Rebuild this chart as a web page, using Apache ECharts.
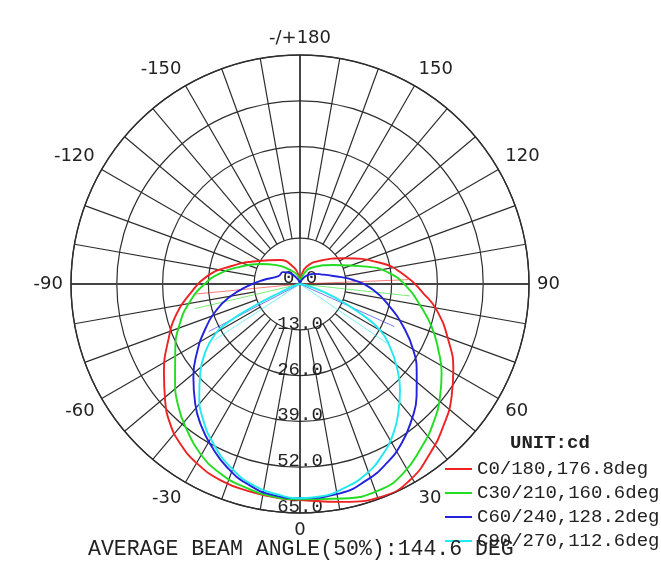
<!DOCTYPE html>
<html lang="en">
<head>
<meta charset="utf-8">
<title>Polar candela diagram</title>
<script src="https://cdn.jsdelivr.net/npm/echarts@6/dist/echarts.min.js"></script>
<style>
    html, body {
        margin: 0px;
        padding: 0px;
        background: #fff;
    }

    #chart {
        width: 661px;
        height: 569px;
    }
</style>
</head>
<body>
<div id="chart"></div>
<script type="text/javascript">
    // luminous intensity (cd), gamma angle in degrees
    var seriesNames = ['C0/180,176.8deg', 'C30/210,160.6deg', 'C60/240,128.2deg', 'C90/270,112.6deg'];

    var c0Angles = [-180, -170, -160, -140, -119, -104, -94.5, -85, -76.5, -67, -56.7, -49.3, -43, -37, -30, -22, -13.5, -5.3, 0,
        11, 21.5, 29.3, 37.5, 45, 53.4, 60.7, 69.3, 79.2, 85.7, 93.9, 104.9, 120.7, 139.4, 158.8, 170, 180];
    var c0Values = [0, 2.5, 5.0, 8.9, 13.5, 20.5, 26.6, 31.3, 36.0, 40.6, 46.2, 50.5, 54.1, 56.6, 58.7, 60.1, 60.6, 61.1, 61.3,
        63.0, 64.7, 63.8, 60.6, 57.4, 53.6, 49.9, 45.0, 39.5, 35.1, 30.3, 23.5, 14.3, 8.7, 5.3, 2.5, 0];

    var c30Angles = [-180, -165, -144.5, -129, -116.6, -106, -97.6, -89.4, -81, -72, -62, -52.5, -44.8, -37.8, -30.6, -23, -15.6, -7.2, 0,
        11.4, 21.2, 28.6, 36.8, 43.7, 51.2, 57.8, 64.5, 72, 80, 88.6, 96.8, 104.6, 119.7, 141.4, 160, 180];
    var c30Values = [0, 2.5, 4.9, 8.5, 12.7, 17.7, 22.9, 27.4, 31.6, 35.8, 40.1, 44.7, 49.0, 52.4, 55.8, 58.3, 59.7, 60.8, 61.1,
        62.1, 62.7, 61.2, 57.7, 54.7, 51.0, 47.5, 43.5, 39.3, 34.6, 30.3, 25.7, 19.6, 10.9, 6.1, 3.0, 0];

    var c60Angles = [-180, -155, -137, -125, -110, -96.2, -87.1, -79.7, -72.7, -64.2, -56.1, -49, -41.3, -34.6, -28.5, -21.9, -15, -7.2, 0,
        10.8, 18.8, 25.8, 32.6, 39.4, 46, 52.6, 59.8, 67.6, 75.8, 85.3, 94.3, 103.5, 115, 125, 138, 155, 180];
    var c60Values = [0, 1.5, 4.2, 5.9, 6.5, 10.5, 15.2, 20.2, 24.8, 30.0, 35.3, 40.1, 45.1, 49.2, 52.5, 55.9, 58.6, 60.4, 60.8,
        60.5, 58.8, 56.5, 53.6, 49.9, 46.0, 41.7, 37.2, 31.7, 26.3, 20.9, 15.2, 9.7, 6.5, 5.0, 3.5, 1.5, 0];

    var c90Angles = [-180, -90, -74, -67, -64.5, -61.8, -58.7, -53.9, -48.2, -41.8, -35.4, -28.6, -21, -13.1, -5.4, 0,
        5.4, 12, 19.4, 26.2, 32, 37.2, 43.3, 49.5, 55.1, 60.1, 64, 69.2, 75, 90, 180];
    var c90Values = [0, 0, 1.5, 6, 14, 23.6, 28.8, 33.4, 38.0, 42.9, 47.4, 51.5, 55.5, 58.6, 60.2, 60.8,
        60.6, 59.3, 57.0, 53.6, 50.0, 46.1, 41.4, 36.1, 31.1, 26.2, 19.0, 10.1, 3.5, 0, 0];

    // 50% beam edges: [left, right] angle and value
    var beamAngles = [[-84.5, 92.3], [-76.8, 83.8], [-62.5, 65.7], [-56.8, 55.8]];
    var beamValues = [[30.4, 30.7], [30.7, 31.4], [29.2, 29.4], [29.0, 30.0]];

    var radialMax = 65;
    var radialStep = 13;
    var titleText = 'AVERAGE BEAM ANGLE(50%):144.6 DEG';
    var unitText = 'UNIT:cd';

    var curveAngles = [c0Angles, c30Angles, c60Angles, c90Angles];
    var curveValues = [c0Values, c30Values, c60Values, c90Values];
    var colors = ['#ee2222', '#22dd22', '#2222dd', '#22e8f0'];

    var myChart = echarts.init(document.getElementById('chart'));

    var CX = 300, CY = 284, R = 229;
    var gridColor = '#2e2e2e';
    var monoFont = '"Liberation Mono", "DejaVu Sans Mono", monospace';

    var seriesData = [];
    for (var i = 0; i < curveAngles.length; i++) {
        var pts = [];
        for (var j = 0; j < curveAngles[i].length; j++) {
            pts.push([curveValues[i][j], curveAngles[i][j]]);
        }
        seriesData.push({
            name: seriesNames[i],
            type: 'line',
            coordinateSystem: 'polar',
            polarIndex: 0,
            smooth: 0.5,
            showSymbol: false,
            silent: true,
            z: 4,
            itemStyle: {color: colors[i]},
            lineStyle: {color: colors[i], width: 1.9},
            data: pts
        });
    }
    for (var k = 0; k < beamAngles.length; k++) {
        seriesData.push({
            name: seriesNames[k] + ' beam',
            type: 'line',
            coordinateSystem: 'polar',
            polarIndex: 0,
            showSymbol: false,
            silent: true,
            z: 3,
            lineStyle: {color: colors[k], width: 1, opacity: 0.6},
            data: [[beamValues[k][0], beamAngles[k][0]], [0, 0], [beamValues[k][1], beamAngles[k][1]]]
        });
    }

    var option = {
        backgroundColor: '#fff',
        animation: false,
        title: [{
            text: titleText,
            left: 88,
            top: 538,
            padding: 0,
            textStyle: {fontFamily: monoFont, fontSize: 21.5, fontWeight: 'normal', color: '#222'}
        }, {
            text: unitText,
            left: 510,
            top: 434,
            padding: 0,
            textStyle: {fontFamily: monoFont, fontSize: 19, fontWeight: 'bold', color: '#222'}
        }],
        legend: {
            data: seriesNames,
            orient: 'vertical',
            left: 445,
            top: 459,
            padding: 0,
            icon: 'rect',
            itemWidth: 27,
            itemHeight: 2,
            itemGap: 4,
            textStyle: {fontFamily: monoFont, fontSize: 19, color: '#222', lineHeight: 20}
        },
        polar: [
            {center: [CX, CY], radius: R},
            {center: [CX, CY], radius: [R / 5, R]},
            {center: [CX, CY], radius: R},
            {center: [CX, CY], radius: R}
        ],
        angleAxis: [{
            polarIndex: 0,
            type: 'value',
            min: -180,
            max: 180,
            interval: 30,
            startAngle: 90,
            clockwise: false,
            axisLine: {lineStyle: {color: gridColor, width: 1.4}},
            axisTick: {show: false},
            splitLine: {show: false},
            axisLabel: {
                margin: 8,
                fontFamily: '"DejaVu Sans", sans-serif',
                fontSize: 18,
                color: '#222',
                formatter: function (v) {
                    return (v === 180 || v === -180) ? '-/+180' : String(v);
                }
            }
        }, {
            polarIndex: 1,
            type: 'value',
            min: -180,
            max: 180,
            interval: 10,
            startAngle: 90,
            clockwise: false,
            axisLine: {show: false},
            axisTick: {show: false},
            axisLabel: {show: false},
            splitLine: {lineStyle: {color: gridColor, width: 1.2}}
        }, {
            polarIndex: 2,
            type: 'value',
            min: 0,
            max: 360,
            interval: 180,
            startAngle: 270,
            axisLine: {show: false},
            axisTick: {show: false},
            axisLabel: {show: false},
            splitLine: {lineStyle: {color: '#222', width: 1.2}}
        }, {
            polarIndex: 3,
            type: 'value',
            min: 0,
            max: 360,
            interval: 180,
            startAngle: 0,
            axisLine: {show: false},
            axisTick: {show: false},
            axisLabel: {show: false},
            splitLine: {lineStyle: {color: '#444', width: 2}}
        }],
        radiusAxis: [{
            polarIndex: 0,
            type: 'value',
            min: 0,
            max: radialMax,
            interval: radialStep,
            axisLine: {show: false},
            axisTick: {show: false},
            axisLabel: {show: false},
            splitLine: {lineStyle: {color: gridColor, width: 1.2}}
        }, {
            polarIndex: 1,
            type: 'value',
            min: 0,
            max: 1,
            show: false
        }, {
            polarIndex: 2,
            type: 'value',
            min: 0,
            max: radialMax,
            interval: radialStep,
            axisLine: {show: false},
            axisTick: {show: false},
            splitLine: {show: false},
            axisLabel: {
                margin: 0,
                align: 'center',
                verticalAlign: 'bottom',
                lineHeight: 12,
                showMinLabel: true,
                showMaxLabel: true,
                fontFamily: monoFont,
                fontSize: 19,
                color: '#222',
                formatter: function (v) {
                    return v.toFixed(1);
                }
            }
        }, {
            polarIndex: 3,
            type: 'value',
            min: 0,
            max: 1,
            show: false
        }],
        series: seriesData
    };

    myChart.setOption(option, true);
</script>
</body>
</html>
